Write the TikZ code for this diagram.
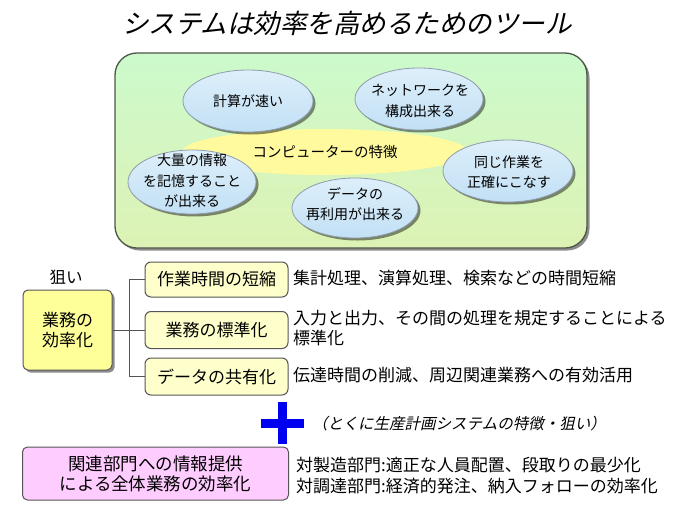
\documentclass[tikz,border=0pt]{standalone}
\usepackage{fontspec}
\setmainfont{Noto Sans CJK JP}
\newfontfamily\cjkit{Noto Sans CJK JP}[FakeSlant=0.22]
\usetikzlibrary{shapes.geometric,shadows,calc}
\definecolor{panelTop}{HTML}{CCFACC}
\definecolor{panelBot}{HTML}{DDF2B4}
\definecolor{panelLine}{HTML}{4E5648}
\definecolor{blueTop}{HTML}{DDEFFA}
\definecolor{blueBot}{HTML}{C2E0F5}
\definecolor{blueLine}{HTML}{8E9CAE}
\definecolor{coreYellow}{HTML}{FFFA9E}
\definecolor{effYellow}{HTML}{FFFF99}
\definecolor{boxYellow}{HTML}{FFFFCC}
\definecolor{pinkFill}{HTML}{FFCCFF}
\definecolor{boxLine}{HTML}{555555}
\definecolor{plusBlue}{HTML}{0000F0}
\tikzset{
  softshadow/.style={drop shadow={shadow xshift=2.5pt,shadow yshift=-2.5pt,fill=black,opacity=0.45}},
  panel/.style={rectangle, rounded corners=22pt, draw=panelLine, line width=1.3pt,
    top color=panelTop, bottom color=panelBot, softshadow},
  core/.style={ellipse, fill=coreYellow, inner sep=0pt, font=\fontsize{14.5}{18}\selectfont},
  blob/.style={ellipse, draw=blueLine, line width=0.8pt, top color=blueTop, bottom color=blueBot,
    inner sep=0pt, softshadow},
  etext/.style={align=center, inner sep=0pt, font=\fontsize{14}{20.5}\selectfont},
  bigbox/.style={rectangle, rounded corners=5pt, draw=boxLine, line width=1pt, fill=effYellow,
    align=center, inner sep=0pt, font=\fontsize{17}{20}\selectfont, softshadow},
  smallbox/.style={rectangle, rounded corners=6pt, draw=boxLine, line width=1pt, fill=boxYellow,
    align=center, inner sep=0pt, font=\fontsize{17}{20}\selectfont},
  pinkbox/.style={rectangle, rounded corners=5pt, draw=boxLine, line width=1pt, fill=pinkFill,
    align=center, inner sep=0pt, font=\fontsize{17.5}{20}\selectfont},
  desc/.style={anchor=west, align=left, inner sep=0pt, font=\fontsize{17}{20}\selectfont},
  conn/.style={draw=boxLine, line width=1pt}
}
\begin{document}
\begin{tikzpicture}[x=1pt,y=-1pt]
\useasboundingbox (0,0) rectangle (693,506);
\fill[white] (0,0) rectangle (693,506);

% title
\node[inner sep=0pt, font=\cjkit\fontsize{26.5}{30}\selectfont] (title) at (347,23)
  {システムは効率を高めるためのツール};

% panel with computer features
\node[panel, minimum width=472pt, minimum height=195pt] (panel) at (351,150.5) {};
\node[core, minimum width=286pt, minimum height=46pt] (core) at (325,152) {コンピューターの特徴};

\node[blob, minimum width=130pt, minimum height=62pt] (e1) at (248,101) {};
\node[etext] (t1) at (e1) {計算が速い};
\node[blob, minimum width=128pt, minimum height=62pt] (e2) at (419,99) {};
\node[etext] (t2) at (420,101) {ネットワークを\\構成出来る};
\node[blob, minimum width=128pt, minimum height=64pt] (e3) at (192,182) {};
\node[etext] (t3) at (192,181) {大量の情報\\を記憶すること\\が出来る};
\node[blob, minimum width=126pt, minimum height=60pt] (e4) at (355,208) {};
\node[etext] (t4) at (355,204) {データの\\再利用が出来る};
\node[blob, minimum width=130pt, minimum height=62pt] (e5) at (508,171) {};
\node[etext] (t5) at (509,172) {同じ作業を\\正確にこなす};

% aims
\node[inner sep=0pt, font=\fontsize{16.5}{20}\selectfont] (aim) at (66,277) {狙い};
\node[bigbox, minimum width=89pt, minimum height=80pt] (eff) at (67.5,330) {業務の\\効率化};
\node[smallbox, minimum width=143pt, minimum height=35pt] (b1) at (216.5,279.5) {作業時間の短縮};
\node[smallbox, minimum width=143pt, minimum height=37pt] (b2) at (216.5,330) {業務の標準化};
\node[smallbox, minimum width=143pt, minimum height=37pt] (b3) at (216.5,376.5) {データの共有化};

\coordinate (jx) at (129,0);
\draw[conn] (eff.east) -- (eff.east -| jx);
\draw[conn] (b1.west) -| (jx |- b3.west) -- (b3.west);
\draw[conn] (jx |- b2.west) -- (b2.west);

\node[desc] (d1) at (293,278) {集計処理、演算処理、検索などの時間短縮};
\node[desc] (d2) at (293,328) {入力と出力、その間の処理を規定することによる\\標準化};
\node[desc] (d3) at (293,375) {伝達時間の削減、周辺関連業務への有効活用};

% plus
\fill[plusBlue] (278,402) rectangle (287,444);
\fill[plusBlue] (261,418.5) rectangle (304,427.5);
\node[anchor=west, inner sep=0pt, font=\cjkit\fontsize{15.5}{18}\selectfont] (note) at (312,424)
  {（とくに生産計画システムの特徴・狙い）};

% bottom
\node[pinkbox, minimum width=266pt, minimum height=53pt] (rel) at (155.5,473.5)
  {関連部門への情報提供\\による全体業務の効率化};
\node[desc, font=\fontsize{17}{21}\selectfont] (rd) at (296,476)
  {対製造部門:適正な人員配置、段取りの最少化\\対調達部門:経済的発注、納入フォローの効率化};
\end{tikzpicture}
\end{document}
